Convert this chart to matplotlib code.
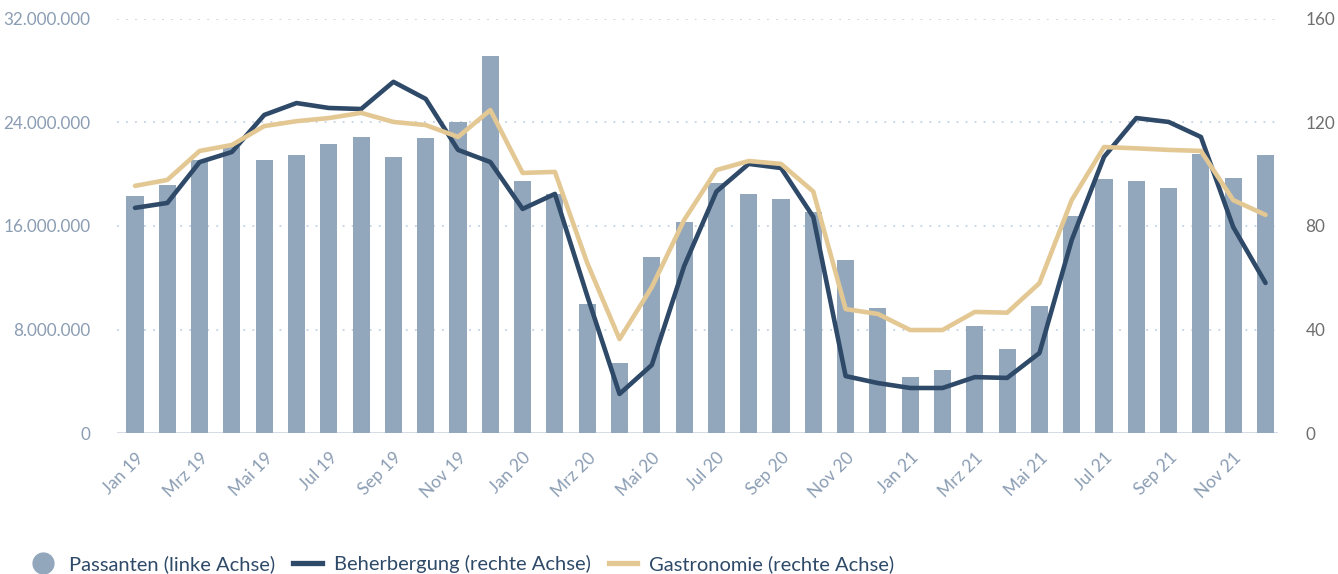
import numpy as np
import matplotlib
matplotlib.use("Agg")
import matplotlib.pyplot as plt
from matplotlib.lines import Line2D
from matplotlib.ticker import FuncFormatter

plt.rcParams['font.family'] = ['Lato', 'DejaVu Sans']

months = ["Jan", "Feb", "Mrz", "Apr", "Mai", "Jun", "Jul", "Aug", "Sep", "Okt", "Nov", "Dez"]
labels = [f"{m} {y}" for y in ("19", "20", "21") for m in months]

# Passanten, linke Achse
passanten = [18.3, 19.2, 21.1, 22.1, 21.1, 21.5, 22.3, 22.9, 21.3, 22.8, 24.0, 29.1,
             19.5, 18.5, 10.0, 5.4, 13.6, 16.3, 19.3, 18.5, 18.1, 17.1, 13.4, 9.7,
             4.3, 4.9, 8.3, 6.5, 9.8, 16.8, 19.6, 19.5, 18.9, 21.6, 19.7, 21.5]
passanten = [v * 1e6 for v in passanten]

# Beherbergung, rechte Achse
beherbergung = [87.0, 88.9, 104.7, 108.6, 122.9, 127.5, 125.6, 125.2, 135.7, 129.1, 109.4, 104.7,
                86.6, 92.4, 53.0, 15.1, 26.3, 64.5, 93.3, 104.0, 102.4, 83.5, 22.0, 19.3,
                17.4, 17.4, 21.6, 21.3, 30.9, 74.6, 106.7, 121.7, 120.2, 114.4, 79.6, 58.0]

# Gastronomie, rechte Achse
gastronomie = [95.5, 97.8, 109.0, 111.3, 118.6, 120.5, 121.7, 123.7, 120.2, 119.0, 114.4, 124.8,
               100.5, 100.9, 65.7, 36.3, 56.4, 82.3, 101.6, 105.1, 104.0, 93.3, 47.9, 46.0,
               39.8, 39.8, 46.8, 46.5, 57.9, 90.0, 110.5, 110.0, 109.4, 109.0, 90.0, 84.3]

bar_col = "#93a7bc"
dark = "#2e4a68"
gold = "#e3c894"
tick_col = "#8b9db3"

x = np.arange(len(labels))

fig = plt.figure(figsize=(13.38, 5.74), dpi=100)
ax = fig.add_axes([0.0874, 0.2456, 0.8676, 0.7214])
ax2 = ax.twinx()

ax.bar(x, passanten, width=0.53, color=bar_col, zorder=2)
ax2.plot(x, beherbergung, color=dark, lw=3.3, solid_capstyle="round", zorder=3)
ax2.plot(x, gastronomie, color=gold, lw=3.3, solid_capstyle="round", zorder=3)

ax.set_xlim(-0.56, 35.38)
ax.set_ylim(0, 32e6)
ax2.set_ylim(0, 160)
ax.set_yticks(np.arange(0, 32e6 + 1, 8e6))
ax2.set_yticks(np.arange(0, 161, 40))
ax.yaxis.set_major_formatter(FuncFormatter(lambda v, _: f"{int(v):,}".replace(",", ".")))

for v in [8e6, 16e6, 24e6, 32e6]:
    ax.axhline(v, color="#c3d2e3", lw=1.3, ls=(0, (1, 4)), zorder=1)
ax.axhline(0, color="#d5dce6", lw=2.2, zorder=1)

ax.set_xticks(x[::2])
ax.set_xticklabels(labels[::2], rotation=45, ha="right", rotation_mode="anchor")
ax.tick_params(axis="x", length=0, pad=12, labelsize=12.5, colors=tick_col)
ax.tick_params(axis="y", length=0, pad=19, labelsize=12.3, colors=tick_col)
ax2.tick_params(axis="y", length=0, pad=20, labelsize=12.3, colors="#6e6e6e")

for a in (ax, ax2):
    for s in a.spines.values():
        s.set_visible(False)

handles = [
    Line2D([], [], marker="o", ls="none", color=bar_col, markersize=15),
    Line2D([], [], color=dark, lw=3.8),
    Line2D([], [], color=gold, lw=3.8),
]
names = ["Passanten (linke Achse)", "Beherbergung (rechte Achse)", "Gastronomie (rechte Achse)"]
fig.legend(handles, names, loc="lower left", bbox_to_anchor=(0.008, -0.03), ncol=3,
           frameon=False, fontsize=14.5, labelcolor=dark, handlelength=1.4,
           handletextpad=0.6, columnspacing=0.9)

fig.savefig("out.png", dpi=100)
